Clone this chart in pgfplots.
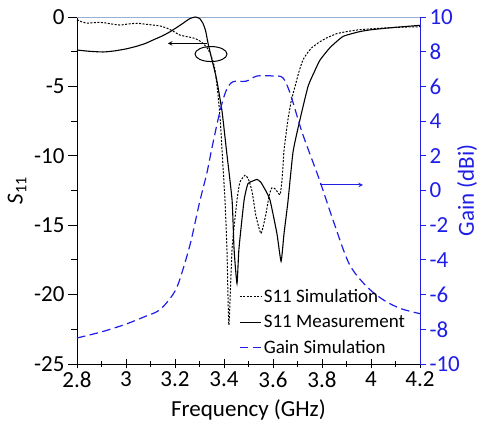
\documentclass[border=0pt]{standalone}
\usepackage{pgfplots}
\pgfplotsset{compat=1.18}
\usepackage{fontspec}
\setmainfont{Carlito}
\definecolor{gainblue}{RGB}{30,30,230}
\definecolor{topline}{RGB}{150,175,215}

\begin{document}
\begin{tikzpicture}
\pgfplotsset{
  every axis/.append style={
    scale only axis, width=343pt, height=347pt,
    xmin=2.8, xmax=4.2,
    /pgf/number format/assume math mode=true,
    tick label style={font=\fontsize{23}{27}\selectfont},
    label style={font=\fontsize{23}{27}\selectfont},
  },
  sim/.style={black, line width=1pt, dash pattern=on 2pt off 1.5pt},
  meas/.style={black, line width=1.1pt},
  gain/.style={gainblue, line width=1.2pt, dash pattern=on 8.5pt off 4.5pt},
}
\begin{axis}[
    name=ax,
    axis x line*=bottom, axis y line*=left,
    ymin=-25, ymax=0,
    xtick={2.8,3,3.2,3.4,3.6,3.8,4,4.2},
    minor xtick={2.9,3.1,3.3,3.5,3.7,3.9,4.1},
    ytick={-25,-20,-15,-10,-5,0},
    minor ytick={-22.5,-17.5,-12.5,-7.5,-2.5},
    x tick style={black, line width=0.8pt},
    y tick style={black, line width=0.8pt},
    xtick align=center, ytick align=outside,
    major tick length=9pt, minor tick length=6pt,
    axis line style={line width=0.9pt},
    xlabel={Frequency (GHz)},
    ylabel={{\itshape S}\textsubscript{11}},
    xlabel style={at={(axis description cs:0.5,-0.133)}, anchor=center},
    ylabel style={at={(axis description cs:-0.175,0.5)}, anchor=center},
    clip=false,
  ]
  \draw[topline, line width=0.8pt] (rel axis cs:0,1) -- (rel axis cs:1,1);
  \addplot[sim, smooth, tension=0.3] coordinates {
    (2.80,-0.2)(2.82,-0.35)(2.841,-0.45)(2.87,-0.4)(2.906,-0.4)(2.94,-0.5)
    (2.976,-0.58)(3.01,-0.5)(3.045,-0.45)(3.08,-0.52)(3.11,-0.58)(3.14,-0.65)
    (3.167,-0.8)(3.19,-1.0)(3.22,-1.3)(3.25,-1.42)(3.273,-1.5)(3.295,-1.65)
    (3.314,-1.9)(3.33,-2.2)(3.343,-2.6)(3.355,-3.2)(3.363,-3.8)(3.375,-5.5)
    (3.385,-7.5)(3.392,-9.6)(3.404,-13.2)(3.412,-16.7)(3.42,-22.2)
    (3.433,-16.7)(3.453,-13.2)(3.465,-11.9)(3.486,-11.4)(3.50,-11.7)
    (3.515,-12.6)(3.53,-14.3)(3.551,-15.6)(3.57,-14.3)(3.585,-12.8)
    (3.596,-12.3)(3.61,-12.4)(3.629,-12.8)(3.638,-11.5)(3.645,-9.6)
    (3.661,-7.4)(3.675,-6.0)(3.69,-5.0)(3.705,-4.0)(3.722,-3.1)(3.74,-2.6)
    (3.759,-2.2)(3.79,-1.8)(3.82,-1.5)(3.86,-1.2)(3.902,-1.05)(3.95,-0.92)
    (4.0,-0.85)(4.05,-0.8)(4.1,-0.75)(4.15,-0.72)(4.2,-0.7)
  };
  \addplot[meas, smooth, tension=0.3] coordinates {
    (2.80,-2.38)(2.85,-2.47)(2.906,-2.52)(2.95,-2.45)(3.0,-2.3)(3.045,-2.1)
    (3.08,-1.9)(3.11,-1.66)(3.15,-1.35)(3.18,-1.06)(3.21,-0.72)(3.233,-0.45)
    (3.26,-0.12)(3.282,0)(3.30,-0.1)(3.314,-0.45)(3.325,-1.0)(3.335,-1.9)
    (3.351,-3.1)(3.37,-4.5)(3.392,-6.8)(3.41,-9.6)(3.433,-13.2)(3.441,-16.7)
    (3.453,-19.2)(3.461,-16.7)(3.482,-13.2)(3.498,-12.0)(3.52,-11.8)
    (3.535,-11.7)(3.55,-11.9)(3.57,-12.5)(3.588,-13.2)(3.616,-15.6)
    (3.633,-17.6)(3.645,-15.6)(3.661,-13.3)(3.682,-9.7)(3.71,-7.4)
    (3.743,-5.0)(3.77,-3.9)(3.792,-3.1)(3.833,-2.2)(3.886,-1.4)(3.955,-1.05)
    (4.0,-0.92)(4.065,-0.8)(4.13,-0.7)(4.2,-0.6)
  };
  \draw[black, line width=1pt, -stealth] (axis cs:3.329,-1.9) -- (axis cs:3.171,-1.9);
  \draw[black, line width=1pt] (axis cs:3.347,-2.67) ellipse [x radius=16pt, y radius=7.5pt];
  \draw[gainblue, line width=1pt, -stealth] (axis cs:3.792,-12.1) -- (axis cs:3.967,-12.1);
\end{axis}
\begin{axis}[
    axis x line=none, axis y line*=right,
    ymin=-10, ymax=10,
    ytick={-10,-8,-6,-4,-2,0,2,4,6,8,10},
    ytick align=outside, major tick length=6pt,
    y tick style={gainblue, line width=0.8pt},
    y axis line style={gainblue, line width=0.9pt},
    yticklabel style={gainblue},
    ylabel={Gain (dBi)},
    ylabel style={gainblue, at={(axis description cs:1.137,0.5)}, anchor=center},
    legend style={draw=none, fill=none, at={(rel axis cs:0.472,0.218)},
      anchor=north west, font=\fontsize{19}{22}\selectfont, inner sep=0pt,
      row sep=9pt, cells={anchor=west}, nodes={inner xsep=0pt, inner ysep=1pt},
      /tikz/every even column/.append style={column sep=0pt},
      /tikz/every odd column/.append style={column sep=2pt}},
    legend image code/.code={\draw[#1] (0pt,0pt) -- (21.5pt,0pt);},
  ]
  \addlegendimage{sim}
  \addlegendentry{S11 Simulation}
  \addlegendimage{meas}
  \addlegendentry{S11 Measurement}
  \addplot[gain, smooth, tension=0.5] coordinates {
    (2.80,-8.5)(2.90,-8.15)(3.00,-7.7)(3.08,-7.25)(3.13,-6.95)(3.17,-6.4)
    (3.21,-5.5)(3.26,-3.2)(3.30,-0.7)(3.33,1.0)(3.35,2.4)(3.384,4.6)
    (3.41,5.8)(3.437,6.27)(3.49,6.3)(3.535,6.6)(3.60,6.6)(3.64,6.5)
    (3.67,5.6)(3.72,3.3)(3.79,0.6)(3.84,-1.5)(3.91,-4.2)(3.98,-5.5)
    (4.05,-6.3)(4.12,-6.8)(4.20,-7.1)
  };
  \addlegendentry{Gain Simulation}
\end{axis}
\pgfresetboundingbox
\path ([xshift=-77pt,yshift=-72pt]ax.south west) rectangle ([xshift=62pt,yshift=17pt]ax.north east);
\end{tikzpicture}
\end{document}
